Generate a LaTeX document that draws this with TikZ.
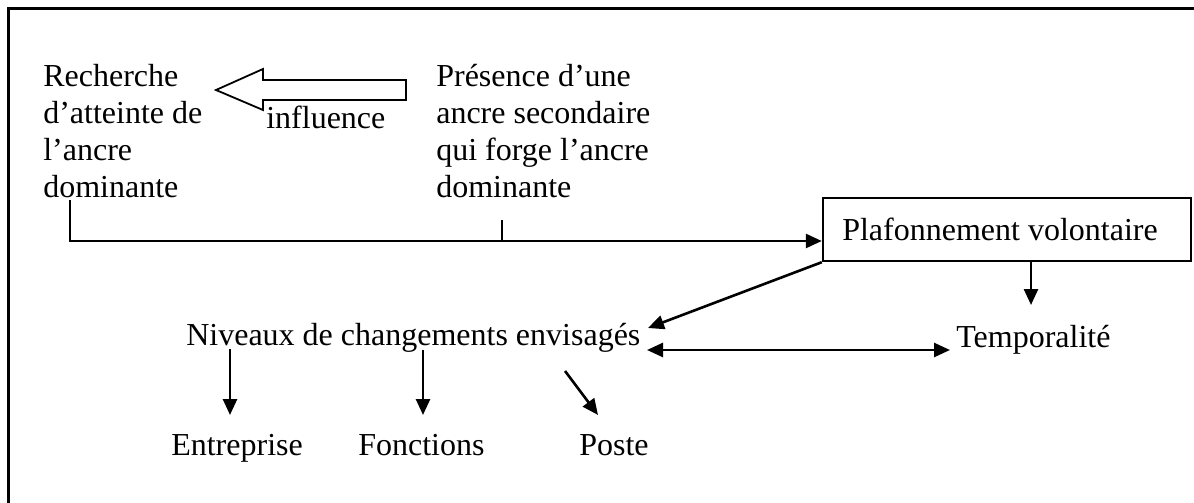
\documentclass[tikz,border=0pt]{standalone}
\usepackage{fontspec}
\setmainfont{Liberation Serif}
\usetikzlibrary{arrows.meta}
\begin{document}
\begin{tikzpicture}[x=1pt,y=-1pt,line width=2.6pt,
  lbl/.style={anchor=base west,inner sep=0pt,font=\fontsize{32}{37}\selectfont,align=left},
  arr/.style={-{Triangle[length=16pt,width=14pt]}},
  darr/.style={{Triangle[length=16pt,width=14pt]}-{Triangle[length=16pt,width=14pt]}},
  boxst/.style={draw,line width=2.4pt,minimum width=368pt,minimum height=63pt,inner sep=0pt,font=\fontsize{32}{37}\selectfont}]
\useasboundingbox (0,0) rectangle (1194,503);
% frame (only top and left edges visible)
\draw[line width=3pt] (8,503) -- (8,9) -- (1194,9);

% texts (base anchor = baseline of last line)
\node[lbl] (rech) at (42,197) {Recherche\\d’atteinte de\\l’ancre\\dominante};
\node[lbl] (pres) at (435,197) {Présence d’une\\ancre secondaire\\qui forge l’ancre\\dominante};
\node[lbl] (infl) at (265,128) {influence};
\node[boxst] (box) at (1007,229.5) {\hspace*{-14pt}Plafonnement volontaire};
\node[lbl] (niv) at (185,345) {Niveaux de changements envisagés};
\node[lbl] (temp) at (955,347) {Temporalité};
\node[lbl] (entr) at (170,455) {Entreprise};
\node[lbl] (fonc) at (357,455) {Fonctions};
\node[lbl] (post) at (578,455) {Poste};

% hollow influence arrow
\draw[line width=1.8pt] (216,90) -- (263,69) -- (263,80) -- (406,80) -- (406,100) -- (263,100) -- (263,110) -- cycle;

% connector coordinates
\coordinate (rs) at (70,200);
\coordinate (rc) at (70,241);
\coordinate (tk) at (502,220);
\coordinate (tkb) at (502,241);
\coordinate (nvt) at (648,328);
\coordinate (tps) at (1031,261);
\coordinate (tpe) at (1031,305);
\coordinate (dl) at (647,350);
\coordinate (dr) at (950,350);
\coordinate (e1) at (230,349);
\coordinate (e2) at (230,415);
\coordinate (f1) at (423,350);
\coordinate (f2) at (423,415);
\coordinate (p1) at (565,371);
\coordinate (p2) at (598,415);

\draw[arr] (rs) -- (rc) -- (box.west |- rc);
\draw (tk) -- (tkb);
\draw[arr] (box.south west) -- (nvt);
\draw[arr] (tps) -- (tpe);
\draw[darr] (dl) -- (dr);
\draw[arr] (e1) -- (e2);
\draw[arr] (f1) -- (f2);
\draw[arr] (p1) -- (p2);
\end{tikzpicture}
\end{document}
